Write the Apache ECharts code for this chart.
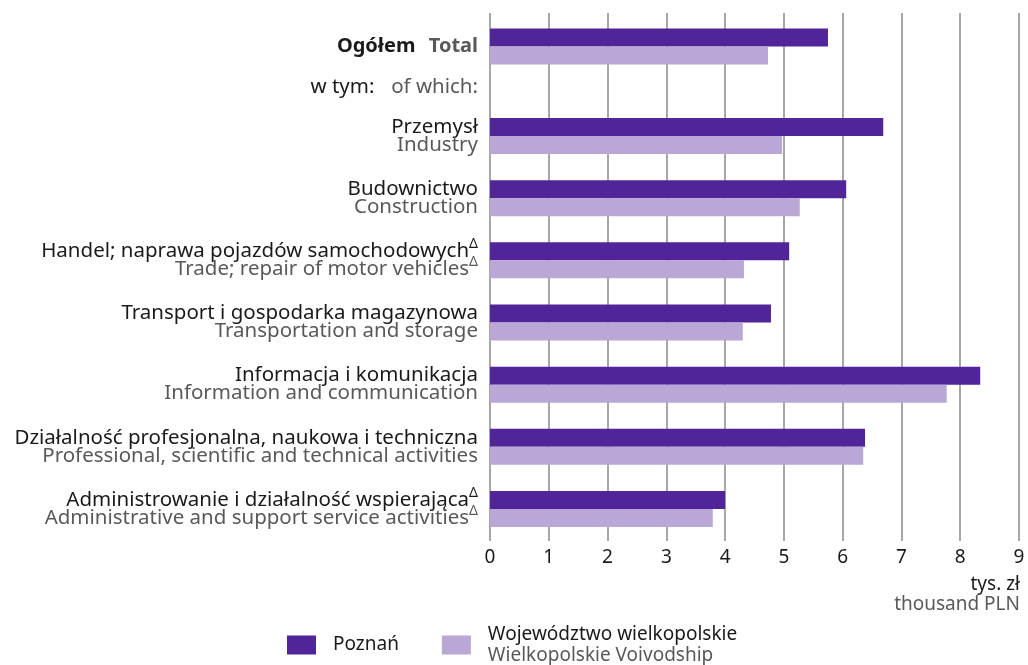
<!DOCTYPE html>
<html>
<head>
<meta charset="utf-8">
<style>
  html, body { margin: 0; padding: 0; background: #fff; }
  #main { width: 1028px; height: 665px; }
</style>
<script src="https://cdn.jsdelivr.net/npm/echarts@6/dist/echarts.min.js"></script>
</head>
<body>
<div id="main"></div>
<script>
// dane
const totalPl = 'Ogółem';
const totalEn = 'Total';
const ofWhichPl = 'w tym:';
const ofWhichEn = 'of which:';
const totalPoznan = [5.75];
const totalWojew = [4.73];

const sectorsPl = ['Przemysł', 'Budownictwo', 'Handel; naprawa pojazdów samochodowych', 'Transport i gospodarka magazynowa',
    'Informacja i komunikacja', 'Działalność profesjonalna, naukowa i techniczna', 'Administrowanie i działalność wspierająca'];
const sectorsEn = ['Industry', 'Construction', 'Trade; repair of motor vehicles', 'Transportation and storage',
    'Information and communication', 'Professional, scientific and technical activities', 'Administrative and support service activities'];
const sectorsDelta = [false, false, true, false, false, false, true];
const poznan = [6.69, 6.06, 5.09, 4.78, 8.34, 6.38, 4.00];
const wojew = [4.97, 5.27, 4.32, 4.30, 7.77, 6.35, 3.79];

const xTicks = [0, 1, 2, 3, 4, 5, 6, 7, 8, 9];

const mainEl = document.getElementById('main');
const chart = echarts.init(mainEl);

const FONT = '"Noto Sans", sans-serif';
const DARK = '#1a1a1a';
const GRAY = '#595959';
const C1 = '#51249a';
const C2 = '#b9a7d6';

const richLab = {
    pl: { fontSize: 20.5, lineHeight: 18, color: DARK, fontFamily: FONT, align: 'right' },
    en: { fontSize: 20.5, lineHeight: 18, color: GRAY, fontFamily: FONT, align: 'right' },
    sup: { fontSize: 14, lineHeight: 18, color: DARK, fontFamily: FONT, verticalAlign: 'bottom', padding: [0, 0, 9, 0] },
    supg: { fontSize: 14, lineHeight: 18, color: GRAY, fontFamily: FONT, verticalAlign: 'bottom', padding: [0, 0, 9, 0] },
    tb: { fontSize: 20, color: DARK, fontWeight: 'bold', fontFamily: FONT },
    tg: { fontSize: 20, color: GRAY, fontWeight: 'bold', fontFamily: FONT },
    wa: { fontSize: 20.5, color: DARK, fontFamily: FONT },
    wg: { fontSize: 20.5, color: GRAY, fontFamily: FONT }
};

const xHidden = (idx) => ({
    type: 'value', gridIndex: idx, min: 0, max: 9, interval: 1, show: false
});

const option = {
    animation: false,
    grid: [
        { left: 490, right: 9, top: 26, height: 82 },
        { left: 490, right: 9, top: 105, height: 435 },
        { left: 490, right: 9, top: 13, bottom: 124 }
    ],
    xAxis: [
        xHidden(0),
        xHidden(1),
        {
            type: 'value', gridIndex: 2, min: xTicks[0], max: xTicks[xTicks.length - 1], interval: 1,
            axisLine: { show: false },
            axisTick: { show: false },
            splitLine: { show: true, lineStyle: { color: '#8a8a8a', width: 1.5 } },
            axisLabel: { fontSize: 19, color: DARK, fontFamily: FONT, margin: 7 }
        }
    ],
    yAxis: [
        {
            type: 'category', gridIndex: 0, inverse: true, data: [totalPl, ofWhichPl],
            axisLine: { show: false }, axisTick: { show: false },
            axisLabel: {
                margin: 12,
                formatter: (v, i) => i === 0 ? '{tb|' + totalPl + '}    {tg|' + totalEn + '}' : '{wa|' + ofWhichPl + '}     {wg|' + ofWhichEn + '}',
                rich: richLab
            }
        },
        {
            type: 'category', gridIndex: 1, inverse: true, data: sectorsPl,
            axisLine: { show: false }, axisTick: { show: false },
            axisLabel: {
                margin: 12,
                align: 'right',
                formatter: (v, i) => {
                    const d = sectorsDelta[i];
                    return '{pl|' + sectorsPl[i] + '}' + (d ? '{sup|Δ}' : '') + '\n{en|' + sectorsEn[i] + '}' + (d ? '{supg|Δ}' : '');
                },
                rich: richLab
            }
        },
        { type: 'value', gridIndex: 2, min: 0, max: 1, show: false }
    ],
    legend: {
        left: 287, top: 625, padding: 0,
        itemWidth: 29, itemHeight: 19, itemGap: 43,
        icon: 'rect',
        data: ['Poznań', 'Województwo wielkopolskie'],
        formatter: (name) => name === 'Poznań' ? '{a|Poznań}' : '{a|Województwo wielkopolskie}\n{b|Wielkopolskie Voivodship}',
        textStyle: {
            padding: [0, 0, 0, 12],
            rich: {
                a: { fontSize: 19, lineHeight: 21, color: DARK, fontFamily: FONT },
                b: { fontSize: 19, lineHeight: 21, color: GRAY, fontFamily: FONT }
            }
        }
    },
    graphic: [
        {
            type: 'text', right: 8, top: 575,
            style: { text: 'tys. zł', fontSize: 19, fill: DARK, fontFamily: FONT, align: 'right' }
        },
        {
            type: 'text', right: 8, top: 595,
            style: { text: 'thousand PLN', fontSize: 19, fill: GRAY, fontFamily: FONT, align: 'right' }
        }
    ],
    series: [
        {
            name: 'Poznań', type: 'bar', xAxisIndex: 0, yAxisIndex: 0,
            barWidth: 18, barGap: '0%', itemStyle: { color: C1 },
            data: [totalPoznan[0], null]
        },
        {
            name: 'Województwo wielkopolskie', type: 'bar', xAxisIndex: 0, yAxisIndex: 0,
            barWidth: 18, barGap: '0%', itemStyle: { color: C2 },
            data: [totalWojew[0], null]
        },
        {
            name: 'Poznań', type: 'bar', xAxisIndex: 1, yAxisIndex: 1,
            barWidth: 18, barGap: '0%', itemStyle: { color: C1 },
            data: poznan
        },
        {
            name: 'Województwo wielkopolskie', type: 'bar', xAxisIndex: 1, yAxisIndex: 1,
            barWidth: 18, barGap: '0%', itemStyle: { color: C2 },
            data: wojew
        }
    ]
};

chart.setOption(option);
</script>
</body>
</html>
